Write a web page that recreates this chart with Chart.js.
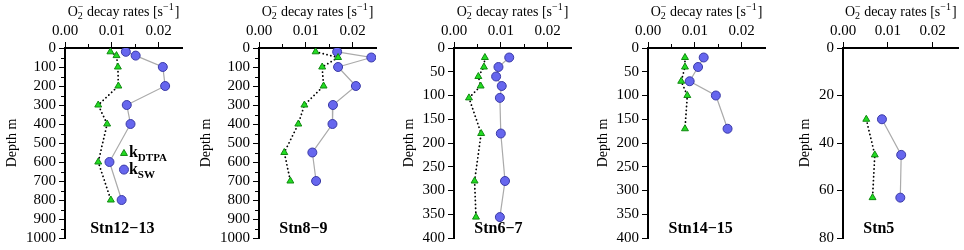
<!DOCTYPE html>
<html>
<head>
<meta charset="utf-8">
<script src="https://cdn.jsdelivr.net/npm/chart.js"></script>
<style>
  html, body { margin: 0; padding: 0; background: #fff; }
  #wrap { position: relative; width: 964px; height: 250px; overflow: hidden; }
  #wrap canvas { position: absolute; top: 0; }
</style>
</head>
<body>
<div id="wrap"></div>
<script>
// station names
const stations = ["Stn12\u221213", "Stn8\u22129", "Stn6\u22127", "Stn14\u221215", "Stn5"];

// depths (m) and O2- decay rates (s^-1), kSW = circles, kDTPA = triangles
const depth1 = [20, 40, 100, 200, 300, 400, 600, 800];
const sw1 = [0.0130, 0.0151, 0.0209, 0.0214, 0.0132, 0.0140, 0.0095, 0.0121];
const dtpa1 = [0.0097, 0.0110, 0.0113, 0.0114, 0.0071, 0.0090, 0.0071, 0.0098];

const depth2 = [20, 50, 100, 200, 300, 400, 550, 700];
const sw2 = [0.0167, 0.0240, 0.0169, 0.0207, 0.0158, 0.0157, 0.0114, 0.0122];
const dtpa2 = [0.0121, 0.0169, 0.0135, 0.0138, 0.0097, 0.0084, 0.0054, 0.0067];

const depth3 = [20, 40, 60, 80, 105, 180, 280, 356];
const sw3 = [0.0118, 0.0095, 0.0090, 0.0102, 0.0098, 0.0100, 0.0109, 0.0098];
const dtpa3 = [0.0066, 0.0064, 0.0052, 0.0057, 0.0032, 0.0058, 0.0044, 0.0047];

const depth4 = [20, 40, 70, 100, 170];
const sw4 = [0.0119, 0.0107, 0.0089, 0.0145, 0.0170];
const dtpa4 = [0.0079, 0.0079, 0.0071, 0.0084, 0.0079];

const depth5 = [30, 45, 63];
const sw5 = [0.0087, 0.0130, 0.0128];
const dtpa5 = [0.0052, 0.0071, 0.0066];

// axis ticks
const xTicks = [0, 0.01, 0.02];
const xMinor = [0.005, 0.015];
const yTicks1000 = [0, 100, 200, 300, 400, 500, 600, 700, 800, 900, 1000];
const yMinor1000 = [50, 150, 250, 350, 450, 550, 650, 750, 850, 950];
const yTicks400 = [0, 50, 100, 150, 200, 250, 300, 350, 400];
const yTicks80 = [0, 20, 40, 60, 80];

const SERIF = "'Liberation Serif', 'Times New Roman', serif";
const PX_PER_X = 117 / 0.025;   // plot width per rate unit

const panels = [
  { name: stations[0], depth: depth1, sw: sw1, dtpa: dtpa1, yMax: 1000, yTicks: yTicks1000, yMinor: yMinor1000, xMinor: xMinor, xMax: 0.025, left: 0, width: 194, lab: [0.49, 0.952], legend: true },
  { name: stations[1], depth: depth2, sw: sw2, dtpa: dtpa2, yMax: 1000, yTicks: yTicks1000, yMinor: yMinor1000, xMinor: xMinor, xMax: 0.025, left: 194, width: 195, lab: [0.38, 0.952] },
  { name: stations[2], depth: depth3, sw: sw3, dtpa: dtpa3, yMax: 400, yTicks: yTicks400, yMinor: [], xMinor: xMinor, xMax: 0.025, left: 389, width: 194, lab: [0.38, 0.952] },
  { name: stations[3], depth: depth4, sw: sw4, dtpa: dtpa4, yMax: 400, yTicks: yTicks400, yMinor: [], xMinor: xMinor, xMax: 0.025, left: 583, width: 195, lab: [0.45, 0.952] },
  { name: stations[4], depth: depth5, sw: sw5, dtpa: dtpa5, yMax: 80, yTicks: yTicks80, yMinor: [], xMinor: [], xMax: 0.0258, left: 778, width: 186, lab: [0.31, 0.952] }
];

const CIRCLE_FILL = "#6666ee", CIRCLE_EDGE = "#3a3aa6";
const TRI_FILL = "#22dd22", TRI_EDGE = "#118811";

// title with sub/superscripts, minor ticks, station label, legend
const decor = {
  id: "decor",
  afterDraw(chart) {
    const p = chart.canvas.$panel;
    if (!p) return;
    const ctx = chart.ctx;
    const a = chart.chartArea;
    const xs = chart.scales.x, ys = chart.scales.y;
    ctx.save();
    ctx.fillStyle = "#000";
    ctx.strokeStyle = "#000";
    ctx.lineWidth = 1;

    // minor ticks
    ctx.beginPath();
    p.yMinor.forEach(v => {
      const y = Math.round(ys.getPixelForValue(v)) + 0.5;
      ctx.moveTo(a.left - 4, y); ctx.lineTo(a.left, y);
    });
    p.xMinor.forEach(v => {
      const x = Math.round(xs.getPixelForValue(v)) + 0.5;
      ctx.moveTo(x, a.top - 4); ctx.lineTo(x, a.top);
    });
    ctx.stroke();

    // axis title: O2- decay rates [s-1]
    const big = "14px " + SERIF, small = "10px " + SERIF;
    ctx.textBaseline = "alphabetic";
    ctx.textAlign = "left";
    ctx.font = big;
    const wO = ctx.measureText("O").width;
    const wMid = ctx.measureText(" decay rates [s").width;
    const wEnd = ctx.measureText("]").width;
    ctx.font = small;
    const w2 = Math.max(ctx.measureText("2").width, ctx.measureText("\u2212").width);
    const wSup = ctx.measureText("\u22121").width;
    const total = wO + w2 + wMid + wSup + wEnd + 1;
    let x = (a.left + a.right) / 2 - total / 2;
    const base = 16;
    ctx.font = big; ctx.fillText("O", x, base); x += wO;
    ctx.font = small; ctx.fillText("2", x, base + 3); ctx.fillText("\u2212", x, base - 6); x += w2;
    ctx.font = big; ctx.fillText(" decay rates [s", x, base); x += wMid;
    ctx.font = small; ctx.fillText("\u22121", x, base - 6); x += wSup + 1;
    ctx.font = big; ctx.fillText("]", x, base);

    // station label
    ctx.font = "bold 16px " + SERIF;
    ctx.textAlign = "center";
    ctx.textBaseline = "middle";
    ctx.fillText(p.name, a.left + p.lab[0] * (a.right - a.left), a.top + p.lab[1] * (a.bottom - a.top));

    // legend
    if (p.legend) {
      const lx = xs.getPixelForValue(0.0126);
      const rows = [
        { y: ys.getPixelForValue(555), style: "triangle", fill: TRI_FILL, edge: TRI_EDGE, sub: "DTPA" },
        { y: ys.getPixelForValue(640), style: "circle", fill: CIRCLE_FILL, edge: CIRCLE_EDGE, sub: "SW" }
      ];
      rows.forEach(r => {
        ctx.fillStyle = r.fill; ctx.strokeStyle = r.edge; ctx.lineWidth = 1;
        Chart.helpers.drawPoint(ctx, { pointStyle: r.style, radius: r.style === "circle" ? 4.5 : 4, borderWidth: 1, rotation: 0 }, lx, r.y);
        ctx.fillStyle = "#000";
        ctx.textAlign = "left";
        ctx.textBaseline = "alphabetic";
        ctx.font = "bold 16px " + SERIF;
        ctx.fillText("k", lx + 5, r.y + 4);
        const wk = ctx.measureText("k").width;
        ctx.font = "bold 11px " + SERIF;
        ctx.fillText(r.sub, lx + 5 + wk, r.y + 8);
      });
    }
    ctx.restore();
  }
};

const wrap = document.getElementById("wrap");

panels.forEach(p => {
  const canvas = document.createElement("canvas");
  canvas.width = p.width;
  canvas.height = 250;
  canvas.style.left = p.left + "px";
  canvas.style.width = p.width + "px";
  canvas.style.height = "250px";
  canvas.$panel = p;
  wrap.appendChild(canvas);

  const swPts = p.depth.map((d, i) => ({ x: p.sw[i], y: d }));
  const dtPts = p.depth.map((d, i) => ({ x: p.dtpa[i], y: d }));

  const chart = new Chart(canvas, {
    type: "scatter",
    data: {
      datasets: [
        {
          label: "kDTPA", data: dtPts, showLine: true,
          borderColor: "#000", borderWidth: 1.8, borderDash: [0.1, 3.8], borderCapStyle: "round",
          pointStyle: "triangle", pointRadius: 4, pointBorderWidth: 1,
          pointBackgroundColor: TRI_FILL, pointBorderColor: TRI_EDGE
        },
        {
          label: "kSW", data: swPts, showLine: true,
          borderColor: "#aaaaaa", borderWidth: 1.2,
          pointStyle: "circle", pointRadius: 4.5, pointBorderWidth: 1,
          pointBackgroundColor: CIRCLE_FILL, pointBorderColor: CIRCLE_EDGE
        }
      ]
    },
    options: {
      responsive: false,
      animation: false,
      layout: { padding: { left: 0, right: 0, top: 0, bottom: 0 } },
      plugins: { legend: { display: false }, tooltip: { enabled: false } },
      scales: {
        x: {
          type: "linear", position: "top", min: 0, max: p.xMax,
          afterBuildTicks: s => { s.ticks = xTicks.map(v => ({ value: v })); },
          ticks: { callback: v => v.toFixed(2), autoSkip: false, maxRotation: 0, padding: 2, color: "#000", font: { family: SERIF, size: 15 } },
          grid: { drawOnChartArea: false, drawTicks: true, tickLength: 6, color: "#000", lineWidth: 1 },
          border: { display: true, color: "#000", width: 2 }
        },
        y: {
          type: "linear", reverse: true, min: 0, max: p.yMax,
          afterBuildTicks: s => { s.ticks = p.yTicks.map(v => ({ value: v })); },
          ticks: { callback: v => String(v), autoSkip: false, padding: 3, color: "#000", font: { family: SERIF, size: 15 } },
          grid: { drawOnChartArea: false, drawTicks: true, tickLength: 6, color: "#000", lineWidth: 1 },
          border: { display: true, color: "#000", width: 2 },
          title: { display: true, text: "Depth m", color: "#000", font: { family: SERIF, size: 14 }, padding: { top: 0, bottom: 2 } }
        }
      }
    },
    plugins: [decor]
  });

  // pin the plot area: y axis at 65 px, top axis at 48 px, bottom at 242 px
  const want = { left: 65, right: 65 + p.xMax * PX_PER_X, top: 48, bottom: 242 };
  const pad = { left: 0, right: 0, top: 0, bottom: 0 };
  for (let k = 0; k < 3; k++) {
    const a = chart.chartArea;
    pad.left += want.left - a.left;
    pad.right += a.right - want.right;
    pad.top += want.top - a.top;
    pad.bottom += a.bottom - want.bottom;
    chart.options.layout.padding = { left: pad.left, right: pad.right, top: pad.top, bottom: pad.bottom };
    chart.update("none");
  }
});
</script>
</body>
</html>
